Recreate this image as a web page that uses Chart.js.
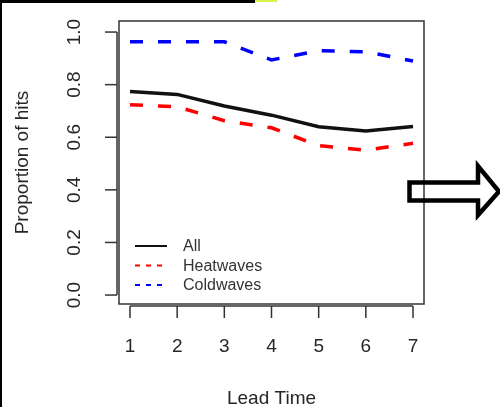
<!DOCTYPE html>
<html>
<head>
<meta charset="utf-8">
<script src="https://cdn.jsdelivr.net/npm/chart.js@4"></script>
<style>
  html, body { margin: 0; padding: 0; background: #fff; }
  #wrap { position: relative; width: 500px; height: 407px; overflow: hidden; }
  #myChart { position: absolute; left: 0; top: 0; }
  .edge-left { position: absolute; left: 0; top: 0; width: 2px; height: 407px; background: #000; }
  .edge-top { position: absolute; left: 0; top: 0; width: 255px; height: 3px; background: #000; }
  .edge-mark { position: absolute; left: 255px; top: 0; width: 22px; height: 2px; background: #d8f24c; }
  #arrow { position: absolute; left: 0; top: 0; }
</style>
</head>
<body>
<div id="wrap">
  <canvas id="myChart" width="500" height="407"></canvas>
  <div class="edge-left"></div>
  <div class="edge-top"></div>
  <div class="edge-mark"></div>
  <svg id="arrow" width="500" height="407">
    <polygon points="409.5,182.5 478,182.5 478,166 499,191.5 478,215 478,200.5 409.5,200.5"
             fill="none" stroke="#000" stroke-width="4.5" stroke-linejoin="miter"/>
  </svg>
</div>
<script>
const leadTimes = [1, 2, 3, 4, 5, 6, 7];
const allHits  = [0.774, 0.763, 0.719, 0.684, 0.640, 0.624, 0.641];
const heatHits = [0.724, 0.716, 0.663, 0.636, 0.568, 0.551, 0.577];
const coldHits = [0.963, 0.963, 0.963, 0.894, 0.929, 0.925, 0.890];
const yTicks = [0, 0.2, 0.4, 0.6, 0.8, 1.0];
const yTickLabels = ['0.0', '0.2', '0.4', '0.6', '0.8', '1.0'];

const font = '"Liberation Sans", Arial, sans-serif';
const ink = '#262626';

function pts(vals) {
  return leadTimes.map((t, i) => ({ x: t, y: vals[i] }));
}

// box, R-style axes, tick labels, titles and legend
const rAxes = {
  id: 'rAxes',
  afterDraw(chart) {
    const { ctx, chartArea: a, scales: { x, y } } = chart;
    ctx.save();
    ctx.strokeStyle = '#333';
    ctx.lineWidth = 1.5;
    ctx.strokeRect(a.left, a.top, a.right - a.left, a.bottom - a.top);

    const seg = (x1, y1, x2, y2) => {
      ctx.beginPath(); ctx.moveTo(x1, y1); ctx.lineTo(x2, y2); ctx.stroke();
    };

    // y axis
    const ax = a.left - 2;
    seg(ax, y.getPixelForValue(yTicks[yTicks.length - 1]), ax, y.getPixelForValue(yTicks[0]));
    ctx.fillStyle = ink;
    ctx.font = '19px ' + font;
    ctx.textAlign = 'center';
    ctx.textBaseline = 'alphabetic';
    yTicks.forEach((v, i) => {
      const py = y.getPixelForValue(v);
      seg(ax - 12, py, ax, py);
      ctx.save();
      ctx.translate(ax - 37, py);
      ctx.rotate(-Math.PI / 2);
      ctx.fillText(yTickLabels[i], 0, 0);
      ctx.restore();
    });

    // x axis
    const ay = a.bottom + 2;
    seg(x.getPixelForValue(leadTimes[0]), ay, x.getPixelForValue(leadTimes[leadTimes.length - 1]), ay);
    leadTimes.forEach(t => {
      const px = x.getPixelForValue(t);
      seg(px, ay, px, ay + 12);
      ctx.fillText(String(t), px, ay + 46);
    });

    // titles
    ctx.fillText('Lead Time', (a.left + a.right) / 2, 404);
    ctx.save();
    ctx.translate(28, (a.top + a.bottom) / 2);
    ctx.rotate(-Math.PI / 2);
    ctx.fillText('Proportion of hits', 0, 0);
    ctx.restore();

    // legend
    ctx.font = '16px ' + font;
    ctx.textAlign = 'left';
    ctx.textBaseline = 'middle';
    chart.data.datasets.forEach((ds, i) => {
      const ly = a.bottom - 58 + i * 19.5;
      ctx.strokeStyle = ds.borderColor;
      ctx.lineWidth = 2;
      ctx.setLineDash(ds.borderDash && ds.borderDash.length ? [5, 6] : []);
      seg(a.left + 16, ly, a.left + 48, ly);
      ctx.setLineDash([]);
      ctx.fillStyle = '#333';
      ctx.fillText(ds.label, a.left + 64, ly + 1);
    });
    ctx.restore();
  }
};

const ctx = document.getElementById('myChart');

new Chart(ctx, {
  type: 'line',
  data: {
    datasets: [
      {
        label: 'All',
        data: pts(allHits),
        borderColor: '#111111',
        borderWidth: 3.5,
        pointRadius: 0,
        tension: 0
      },
      {
        label: 'Heatwaves',
        data: pts(heatHits),
        borderColor: '#ff0000',
        borderWidth: 3.5,
        borderDash: [13, 15],
        pointRadius: 0,
        tension: 0
      },
      {
        label: 'Coldwaves',
        data: pts(coldHits),
        borderColor: '#0000ff',
        borderWidth: 3.5,
        borderDash: [13, 15],
        pointRadius: 0,
        tension: 0
      }
    ]
  },
  options: {
    responsive: false,
    animation: false,
    devicePixelRatio: 1,
    layout: { padding: { left: 0, top: 21, right: 76, bottom: 0 } },
    plugins: { legend: { display: false }, tooltip: { enabled: false } },
    scales: {
      x: {
        type: 'linear',
        min: 0.767,
        max: 7.233,
        grid: { display: false },
        border: { display: false },
        ticks: { display: false },
        afterFit: s => { s.height = 103; }
      },
      y: {
        min: -0.034,
        max: 1.042,
        grid: { display: false },
        border: { display: false },
        ticks: { display: false },
        afterFit: s => { s.width = 119; }
      }
    }
  },
  plugins: [rAxes]
});
</script>
</body>
</html>
